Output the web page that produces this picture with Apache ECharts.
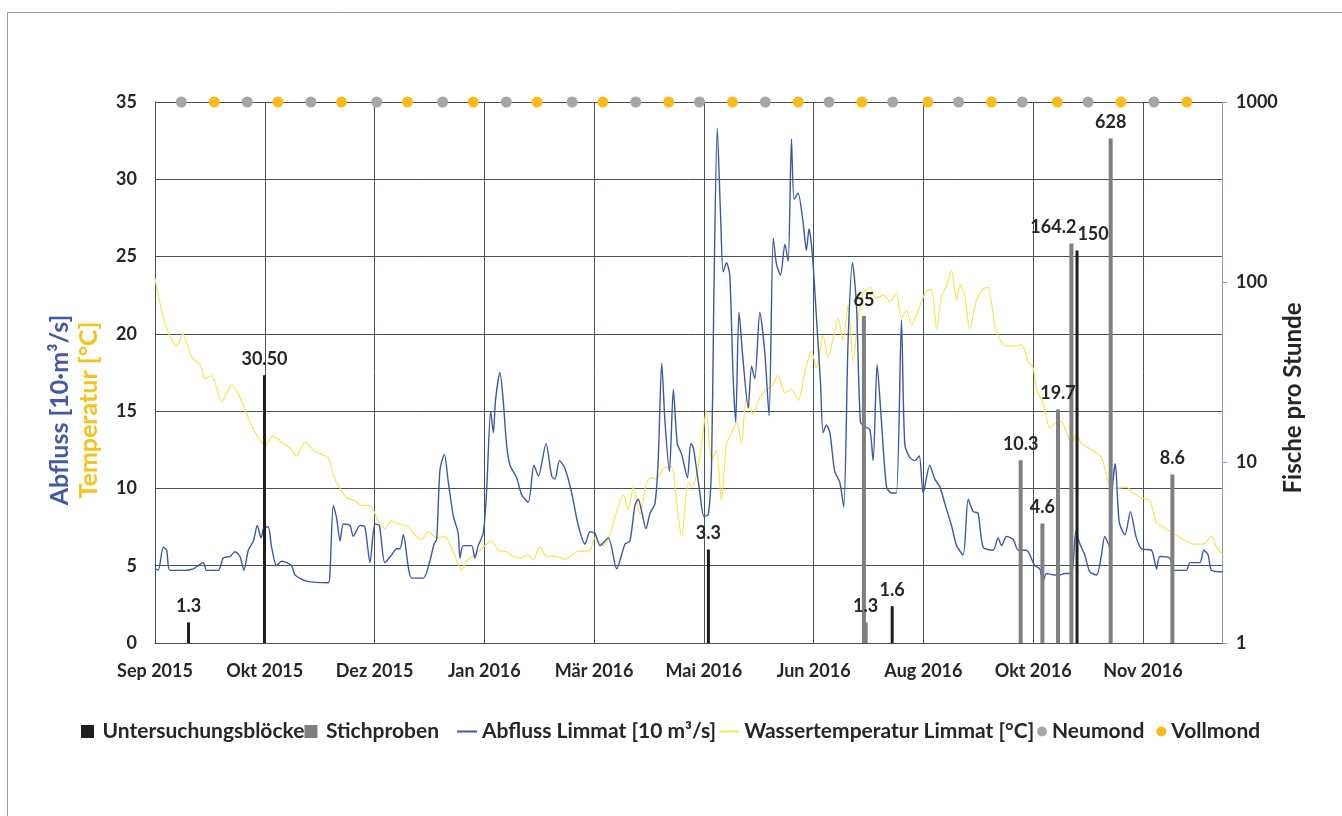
<!DOCTYPE html>
<html>
<head>
<meta charset="utf-8" />
<script src="https://cdn.jsdelivr.net/npm/echarts@6/dist/echarts.min.js"></script>
<style>
  html, body { margin: 0; padding: 0; background: #fff; }
  #chart { width: 1342px; height: 816px; }
</style>
</head>
<body>
<div id="chart"></div>
<script>
// x values are days counted from 1 Sep 2015, one tick every 50 days
var tickLabels = ['Sep 2015','Okt 2015','Dez 2015','Jan 2016','Mär 2016','Mai 2016','Jun 2016','Aug 2016','Okt 2016','Nov 2016'];

var blockDays   = [15.5, 50.1, 252.3, 336, 420.2];
var blockValues = [1.3, 30.5, 3.3, 1.6, 150];
var blockLabels = ['1.3', '30.50', '3.3', '1.6', '150'];

var sampleDays   = [322.9, 323.7, 394.3, 404.2, 411.3, 417.4, 435.3, 463.4];
var sampleValues = [65, 1.3, 10.3, 4.6, 19.7, 164.2, 628, 8.6];
var sampleLabels = ['65', '1.3', '10.3', '4.6', '19.7', '164.2', '628', '8.6'];

var newMoonDays  = [12,42,71,101,131,160,190,219,248,278,307,336,366,395,425,455];
var fullMoonDays = [27,56,85,115,145,174,204,234,263,293,322,352,381,411,440,470];

// Abfluss Limmat [10 m3/s] : [day, value]
var flow = [
[0.5,4.8],[1.5,4.7],[3.8,6.2],[5.3,6.0],[6.8,4.7],[12.9,4.7],[17.5,4.8],[22,5.2],[23.5,4.7],[28.8,4.7],
[31.1,5.5],[34.2,5.6],[36.4,5.9],[38.7,5.6],[40.5,4.7],[42.5,6.0],[44.8,6.6],[46.6,7.6],[48.3,6.8],[49.8,7.5],
[51.6,7.5],[53.1,6.2],[55.4,5.0],[57.7,5.3],[62.2,5.0],[63.8,4.4],[69.1,4.0],[78.9,3.9],[79.7,4.6],[81.2,8.9],
[82.7,8.1],[84.3,6.6],[85.8,7.7],[88.8,7.6],[90.3,6.9],[93.4,7.6],[95.6,7.5],[97.9,5.2],[100.2,7.7],[102.2,7.6],
[104.7,5.2],[107.8,5.7],[110.1,6.1],[111.6,6.1],[113.1,7.0],[116.9,4.2],[122.2,4.2],[125.2,5.3],[127.1,6.4],[128.3,6.7],
[129.8,11.2],[131.8,12.2],[133.6,10.4],[135.9,8.2],[138.1,7.1],[138.9,5.5],[140.4,6.3],[144.2,6.3],[145.7,5.5],[147.2,6.3],
[149.5,7.1],[151,9.7],[152.9,15.0],[154.1,13.6],[155.1,15.7],[157.1,17.5],[158.6,15.7],[160.1,12.9],[161.7,11.5],[164.7,10.7],
[167,9.6],[170,9.1],[172.6,11.5],[174.6,10.8],[178.1,12.9],[180.7,10.8],[182.2,10.6],[184.2,11.8],[186.7,11.3],[189.8,9.7],
[192.8,7.6],[195.9,6.4],[198.1,7.2],[200.4,7.1],[202.7,6.3],[206.5,6.8],[210.3,4.8],[214.1,6.4],[216.3,6.6],[218.6,8.9],
[220.1,9.3],[221.7,8.5],[223.6,7.4],[225.5,8.4],[227.7,9.0],[229.2,11.8],[230.8,18.1],[232.3,14.3],[234.3,11.1],[236.1,16.4],
[237.9,12.9],[239.9,12.2],[242.5,10.7],[244,12.9],[245.1,12.7],[246.6,11.3],[248.2,9.7],[250,8.2],[252,8.3],[253.5,11.5],
[254.5,21.9],[256.1,33.3],[257.6,27.7],[258.8,24.0],[260.3,24.6],[261.8,23.8],[263.3,17.3],[264.5,14.3],[266,21.4],[267.9,18.2],
[270.2,15.2],[271.7,17.9],[273.2,17.1],[275.5,21.4],[277.8,18.7],[279.7,14.7],[281.6,26.2],[283.1,24.5],[284.9,23.8],[286.9,25.8],
[288.4,24.7],[289.9,32.6],[291.1,28.7],[292.9,29.1],[295.2,27.2],[296.7,25.4],[297.9,26.8],[299.5,25.0],[301.3,21.0],[303.1,16.9],
[304.3,13.6],[305.8,14.1],[307.4,13.6],[309.6,11.1],[311.9,10.4],[313.7,8.8],[315.7,19.6],[317.7,24.6],[319.5,21.9],[321.3,14.3],
[323.3,14.0],[325.6,13.8],[327.1,11.8],[328.9,18.0],[330.9,14.3],[333.2,10.1],[335.5,9.7],[337.7,9.7],[340,20.9],[341.5,12.9],
[343.8,12.0],[346.1,11.8],[348.1,12.1],[349.9,9.7],[352.9,11.5],[355.2,10.6],[357.5,10.1],[359.8,9.0],[362.8,7.6],[365.1,6.3],
[368.1,5.7],[370.4,9.3],[372.7,8.5],[374.9,8.4],[377.2,6.2],[381.8,6.0],[384,6.8],[385.6,6.3],[387.8,6.9],[390.9,6.7],
[393.2,6.0],[396.9,6.0],[400.7,5.0],[403,4.8],[404.5,4.0],[406.1,4.5],[409.8,4.4],[412.2,4.4],[414.4,4.5],[417.5,4.5],
[419.4,7.2],[421.3,6.4],[423.5,5.7],[425.8,4.6],[428.9,4.4],[431.1,5.7],[432.6,6.9],[434.6,6.3],[436.1,10.1],[437.4,11.6],
[439.2,7.8],[441.8,7.0],[444.3,8.5],[446.8,6.9],[449.3,6.1],[453.9,6.0],[456.2,4.8],[457.7,5.6],[462.2,5.5],[464.1,4.7],
[469.8,4.7],[471.4,5.2],[475.9,5.2],[477.7,6.0],[479.7,5.7],[481.2,4.7],[486.5,4.6]
];

// Wassertemperatur Limmat [°C] : [day, value]
var temp = [
[0,23.6],[3,21.5],[6,20.1],[10,19.2],[12.6,20.0],[16.7,18.5],[20.5,18.0],[22.8,17.1],[25.8,17.3],[30.4,15.6],
[34.9,16.7],[38.7,15.9],[43.3,14.3],[47.8,13.1],[50.1,12.8],[53.9,13.4],[57.7,13.0],[61.5,12.6],[64.5,12.1],[68.3,13.0],
[72.1,12.5],[75.9,12.2],[78.9,12.0],[80.9,11.1],[82,10.6],[84.3,10.0],[87.3,9.4],[91.1,9.2],[94.1,8.9],[97.9,8.9],
[101.7,7.9],[104.7,7.4],[107.8,7.9],[110.8,7.7],[114.6,7.6],[118.4,7.0],[121.4,6.7],[124.5,7.2],[128.3,6.8],[132.1,6.9],
[135.9,5.9],[139.7,4.7],[141.9,5.3],[145.7,5.7],[149.5,6.2],[153.3,6.6],[156.4,6.0],[160.1,5.9],[163.2,5.6],[166.2,5.5],
[170,5.7],[172.3,5.4],[175.4,6.2],[178.4,5.6],[183,5.6],[186.7,5.4],[192.1,5.9],[198.1,6.0],[200.4,6.8],[204.2,6.3],
[207.2,7.0],[210.3,8.5],[213.3,9.6],[215.6,8.6],[217.9,10.1],[220.9,8.3],[223.9,10.4],[226.2,10.7],[228.5,10.6],[231.5,11.3],
[235.3,11.4],[237.6,9.0],[239.9,6.9],[242.9,10.4],[244.5,10.1],[247.4,11.3],[251.2,15.0],[253.5,11.8],[255.7,12.5],[258,9.2],
[260.3,12.9],[262.6,13.6],[264.9,14.3],[267.1,12.9],[269.4,15.9],[272.4,14.8],[275.5,15.9],[278.5,16.4],[280.8,16.6],[283.8,17.3],
[286.9,16.2],[289.9,16.4],[293,15.7],[296,17.5],[299,18.9],[301.3,17.8],[304.3,19.9],[306.6,18.5],[308.9,19.7],[311.2,21.0],
[313.4,19.6],[315.7,21.9],[318,18.2],[320.3,21.0],[322.5,22.6],[325.6,23.0],[328.6,22.3],[331.7,22.5],[334.7,22.1],[337.7,22.6],
[340,21.0],[342.3,21.5],[344.6,20.6],[347.6,21.5],[350.6,22.6],[352.9,22.9],[354.4,22.4],[356,20.3],[358.2,22.4],[360.5,23.1],
[362.8,24.1],[365.1,22.2],[366.6,23.2],[368.9,22.4],[371.1,20.3],[374.2,22.2],[377.2,22.9],[379.5,23.0],[382.5,20.6],[386.3,19.3],
[390.9,19.2],[394.7,19.3],[397.7,18.2],[400,17.8],[401.5,16.4],[404.5,15.5],[407.6,13.9],[409.8,14.2],[412.9,14.3],[417.5,12.9],
[419.7,13.5],[422,12.9],[426.6,12.5],[431.1,12.0],[434.9,10.1],[438,10.0],[442.5,10.1],[445.5,9.7],[449.3,9.4],[453.1,9.2],
[456.2,7.8],[459.2,7.5],[463.8,7.1],[468.3,6.7],[472.9,6.4],[477.4,6.4],[481.2,6.9],[483.5,6.2],[486.5,5.7]
];

var FONT = 'Lato';
var TXT = '#262626';
var GRIDC = '#44525f';
var BLUE = '#3f56a8';
var YELLOW = '#f3e650';
var SQUARE = 'path://M0,0H10V10H0Z';

function moonPoints(days) {
    return days.map(function (d) { return [d, 35]; });
}
// a few labels sit beside their bar in the original
var labelShift = { 'sample:5': [-18, 0], 'block:4': [16, 0] };
function barData(kind, days, vals) {
    return days.map(function (d, i) {
        var item = { value: [d, vals[i]] };
        var s = labelShift[kind + ':' + i];
        if (s) item.label = { offset: s };
        return item;
    });
}

var legendText = { fontFamily: FONT, fontSize: 21, fontWeight: 'bold', color: TXT };

var myChart = echarts.init(document.getElementById('chart'));
myChart.setOption({
    animation: false,
    textStyle: { fontFamily: FONT },
    grid: { left: 155, right: 120, top: 102, bottom: 173, containLabel: false },
    legend: [
        {
            top: 716, left: 76, itemGap: 0, itemWidth: 20, itemHeight: 13,
            textStyle: legendText,
            data: [
                { name: 'Untersuchungsblöcke', icon: SQUARE },
                { name: 'Stichproben', icon: SQUARE }
            ]
        },
        {
            top: 716, left: 452, itemGap: 3, itemWidth: 20, itemHeight: 2,
            icon: 'rect', textStyle: legendText,
            data: ['Abfluss Limmat [10 m³/s]', 'Wassertemperatur Limmat [°C]']
        },
        {
            top: 716, left: 1032, itemGap: 12, itemWidth: 10, itemHeight: 10,
            icon: 'circle', textStyle: legendText,
            data: ['Neumond', 'Vollmond']
        }
    ],
    xAxis: {
        type: 'value',
        min: 0,
        max: 486,
        interval: 50,
        axisLine: { show: true, lineStyle: { color: GRIDC } },
        axisTick: { show: false },
        splitLine: { show: true, lineStyle: { color: GRIDC, width: 1 } },
        axisLabel: {
            margin: 19,
            showMaxLabel: false,
            fontFamily: FONT, fontSize: 18, fontWeight: 'bold', color: TXT,
            formatter: function (v) {
                if (v % 50 !== 0) return '';
                return tickLabels[v / 50] || '';
            }
        }
    },
    yAxis: [
        {
            type: 'value',
            min: 0, max: 35, interval: 5,
            axisLine: { show: true, lineStyle: { color: GRIDC } },
            axisTick: { show: false },
            splitLine: { show: true, lineStyle: { color: GRIDC, width: 1 } },
            axisLabel: { margin: 18, fontFamily: FONT, fontSize: 18, fontWeight: 'bold', color: TXT }
        },
        {
            type: 'log',
            logBase: 10,
            min: 1, max: 1000,
            position: 'right',
            axisLine: { show: true, lineStyle: { color: '#8a9bb3' } },
            axisTick: { show: true, inside: false, length: 5, lineStyle: { color: '#8a9bb3' } },
            splitLine: { show: false },
            axisLabel: {
                margin: 14, fontFamily: FONT, fontSize: 18, fontWeight: 'bold', color: TXT,
                formatter: function (v) { return String(Math.round(v)); }
            }
        }
    ],
    series: [
        {
            name: 'Abfluss Limmat [10 m³/s]',
            type: 'line',
            yAxisIndex: 0,
            data: flow,
            showSymbol: false,
            symbol: 'none',
            smooth: 0.25,
            color: BLUE,
            lineStyle: { color: BLUE, width: 1.4 },
            z: 3
        },
        {
            name: 'Wassertemperatur Limmat [°C]',
            type: 'line',
            yAxisIndex: 0,
            data: temp,
            showSymbol: false,
            symbol: 'none',
            smooth: 0.25,
            color: YELLOW,
            lineStyle: { color: YELLOW, width: 1.2 },
            z: 2
        },
        {
            name: 'Untersuchungsblöcke',
            type: 'bar',
            yAxisIndex: 1,
            barWidth: 3,
            barGap: '-100%',
            data: barData('block', blockDays, blockValues),
            itemStyle: { color: '#1e1e1e' },
            label: {
                show: true, position: 'top', distance: 7,
                fontFamily: FONT, fontSize: 18, fontWeight: 'bold', color: TXT,
                formatter: function (p) { return blockLabels[p.dataIndex]; }
            },
            z: 4
        },
        {
            name: 'Stichproben',
            type: 'bar',
            yAxisIndex: 1,
            barWidth: 4,
            barGap: '-100%',
            data: barData('sample', sampleDays, sampleValues),
            itemStyle: { color: '#7f7f7f' },
            label: {
                show: true, position: 'top', distance: 7,
                fontFamily: FONT, fontSize: 18, fontWeight: 'bold', color: TXT,
                formatter: function (p) { return sampleLabels[p.dataIndex]; }
            },
            z: 4
        },
        {
            name: 'Neumond',
            type: 'scatter',
            yAxisIndex: 0,
            symbolSize: 11,
            data: moonPoints(newMoonDays),
            itemStyle: { color: '#a6a6a6', opacity: 1 },
            z: 5
        },
        {
            name: 'Vollmond',
            type: 'scatter',
            yAxisIndex: 0,
            symbolSize: 11,
            data: moonPoints(fullMoonDays),
            itemStyle: { color: '#fbbc1a', opacity: 1 },
            z: 5
        }
    ],
    graphic: [
        {
            type: 'rect', silent: true, z: -1,
            shape: { x: 7.5, y: 12.5, width: 1400, height: 900 },
            style: { fill: 'none', stroke: '#9a9a9a', lineWidth: 1 }
        },
        {
            type: 'text', x: 60, y: 410, rotation: Math.PI / 2,
            style: {
                text: 'Abfluss [10·m³/s]', fill: '#4258a8',
                font: 'bold 25px Lato', textAlign: 'center', textVerticalAlign: 'middle'
            }
        },
        {
            type: 'text', x: 89, y: 410, rotation: Math.PI / 2,
            style: {
                text: 'Temperatur [°C]', fill: '#f6c21c',
                font: 'bold 25px Lato', textAlign: 'center', textVerticalAlign: 'middle'
            }
        },
        {
            type: 'text', x: 1293, y: 398, rotation: Math.PI / 2,
            style: {
                text: 'Fische pro Stunde', fill: TXT,
                font: 'bold 24px Lato', textAlign: 'center', textVerticalAlign: 'middle'
            }
        }
    ]
});
</script>
</body>
</html>
